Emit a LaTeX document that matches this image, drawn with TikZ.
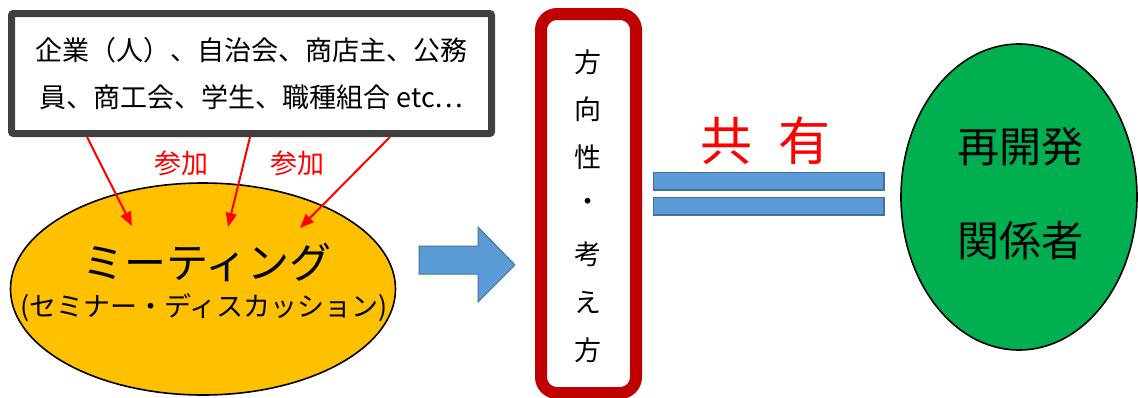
\documentclass[tikz,border=0pt]{standalone}
\usepackage{fontspec}
\setmainfont{Noto Sans CJK JP}
\usetikzlibrary{shapes.geometric,shapes.arrows,arrows.meta}
\definecolor{boxgray}{HTML}{404040}
\definecolor{meetfill}{HTML}{FFC000}
\definecolor{bluefill}{HTML}{5B9BD5}
\definecolor{blueline}{HTML}{41719C}
\definecolor{darkred}{HTML}{C00000}
\definecolor{greenfill}{HTML}{00B050}
\tikzset{
  every node/.style={inner sep=0pt, outer sep=0pt},
  redarrow/.style={draw=red, line width=2pt, -{Triangle[length=14pt,width=11pt]}},
  redlabel/.style={text=red, font=\fontsize{27}{30}\selectfont},
  bluebar/.style={draw=blueline, fill=bluefill, line width=1.2pt},
  vchar/.style={font=\fontsize{27}{29}\selectfont}
}
\begin{document}
\begin{tikzpicture}[x=1pt,y=-1pt]
\useasboundingbox (0,0) rectangle (1138,397);
% top gray box
\node[draw=boxgray, line width=7pt, rounded corners=2pt, minimum width=480pt, minimum height=120pt, anchor=north west] (grp) at (11.5,13.5) {};
\node[font=\fontsize{27}{30}\selectfont] (l1) at (251.5,50) {企業（人）、自治会、商店主、公務};
\node[font=\fontsize{27}{30}\selectfont] (l2) at (251.5,97) {員、商工会、学生、職種組合 etc…};
% meeting ellipse
\node[ellipse, draw=black, line width=1.6pt, fill=meetfill, minimum width=385pt, minimum height=212pt] (meet) at (203,289) {};
\node[font=\fontsize{42}{45}\selectfont] (mt) at (207,262) {ミーティング};
\node[font=\fontsize{27}{30}\selectfont] (mt2) at (204,308) {(セミナー・ディスカッション)};
% red arrows
\coordinate (s1) at (87,137);
\coordinate (e1) at (132,226);
\coordinate (s2) at (250,137);
\coordinate (e2) at (228,227);
\coordinate (s3) at (390,137);
\coordinate (e3) at (300,228);
\draw[redarrow] (s1) -- (e1);
\draw[redarrow] (s2) -- (e2);
\draw[redarrow] (s3) -- (e3);
\node[redlabel] (p1) at (181,163) {参加};
\node[redlabel] (p2) at (297,163) {参加};
% blue block arrow
\draw[bluebar, line width=1pt] (419,246) -- (478,246) -- (478,227) -- (515,265) -- (478,302) -- (478,274) -- (419,274) -- cycle;
% red rounded rect
\draw[darkred, line width=12pt, rounded corners=16pt] (541,14) rectangle (636,393);
\node[vchar] (v1) at (588,62) {方};
\node[vchar] (v2) at (588,109) {向};
\node[vchar] (v3) at (588,157) {性};
\node[vchar] (v4) at (588,205) {・};
\node[vchar] (v5) at (588,254) {考};
\node[vchar] (v6) at (588,302) {え};
\node[vchar] (v7) at (588,350) {方};
% share
\node[text=red, font=\fontsize{52}{55}\selectfont] (share) at (765,141) {共\hspace{0.5em}有};
\draw[bluebar] (653.5,172.5) rectangle (884,190);
\draw[bluebar] (653.5,197.5) rectangle (884,215);
% green ellipse
\node[ellipse, draw=black, line width=1.6pt, fill=greenfill, minimum width=236pt, minimum height=306pt] (stake) at (1019,197) {};
\node[font=\fontsize{42}{45}\selectfont] (g1) at (1020,147) {再開発};
\node[font=\fontsize{42}{45}\selectfont] (g2) at (1020,241) {関係者};
\end{tikzpicture}
\end{document}
